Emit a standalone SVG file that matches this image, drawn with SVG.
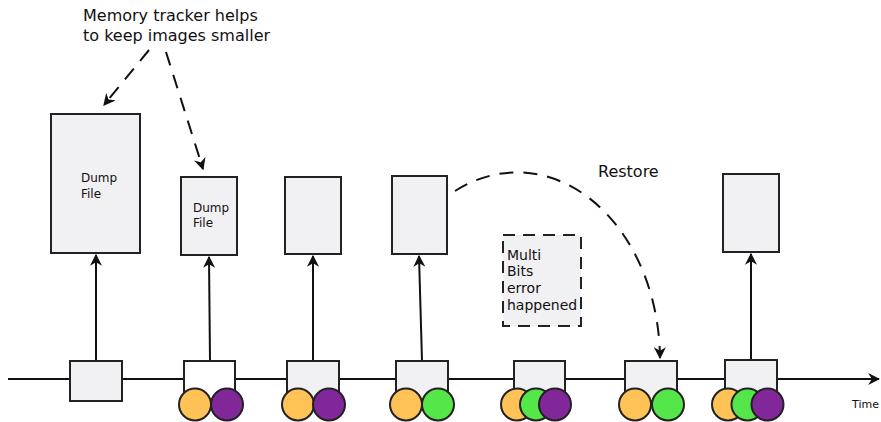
<svg xmlns="http://www.w3.org/2000/svg" width="881" height="422" viewBox="0 0 881 422">
<defs>
<style>
.box{fill:#f1f0f3;stroke:#222;stroke-width:2}
.wbox{fill:#fff;stroke:#222;stroke-width:2}
.ln{stroke:#111;stroke-width:2;fill:none}
.dash{stroke:#111;stroke-width:2;fill:none;stroke-dasharray:14 10}
.o{fill:#fec257;stroke:#222;stroke-width:2}
.g{fill:#55e64a;stroke:#222;stroke-width:2}
.p{fill:#822799;stroke:#222;stroke-width:2}
.t{font-family:"DejaVu Sans",sans-serif;fill:#111}
</style>
<marker id="ah2" viewBox="0 0 10 10" refX="9" refY="5" markerWidth="12" markerHeight="12" markerUnits="userSpaceOnUse" orient="auto"><path d="M0,0 L10,5 L0,10 L3,5 Z" fill="#111"/></marker>
</defs>
<g id="connectors">
<line class="ln" x1="8" y1="379" x2="879" y2="379" marker-end="url(#ah2)"/>
<line class="ln" x1="96" y1="361" x2="96" y2="255" marker-end="url(#ah2)"/>
<line class="ln" x1="210" y1="361" x2="209" y2="257" marker-end="url(#ah2)"/>
<line class="ln" x1="313" y1="361" x2="313" y2="256" marker-end="url(#ah2)"/>
<line class="ln" x1="422" y1="361" x2="419" y2="256" marker-end="url(#ah2)"/>
<line class="ln" x1="751" y1="360" x2="751" y2="254" marker-end="url(#ah2)"/>
<line class="dash" x1="149" y1="50" x2="104" y2="105" marker-end="url(#ah2)"/>
<line class="dash" x1="166" y1="52" x2="203" y2="169" marker-end="url(#ah2)"/>
<path class="dash" d="M455,191 A143 188 0 0 1 660,358" stroke-dasharray="18 12" marker-end="url(#ah2)"/>
</g>
<g id="note">
<text class="t" x="83" y="21" font-size="16">Memory tracker helps</text>
<text class="t" x="83" y="41" font-size="16">to keep images smaller</text>
</g>
<g id="restore-label"><text class="t" x="598" y="177" font-size="16">Restore</text></g>
<g id="dump1"><rect class="box" x="51" y="114" width="89" height="139"/>
<text class="t" x="81" y="182" font-size="12">Dump</text><text class="t" x="81" y="198" font-size="12">File</text></g>
<g id="dump2"><rect class="box" x="181" y="177" width="56" height="78"/>
<text class="t" x="193" y="212" font-size="12">Dump</text><text class="t" x="193" y="227" font-size="12">File</text></g>
<g id="dump3"><rect class="box" x="285" y="177" width="56" height="77"/></g>
<g id="dump4"><rect class="box" x="392" y="176" width="55" height="78"/></g>
<g id="dump5"><rect class="box" x="723" y="174" width="56" height="78"/></g>
<g id="error"><rect class="box" x="503" y="235" width="78" height="91" stroke-dasharray="12 8"/>
<text class="t" x="507" y="260" font-size="14">Multi</text>
<text class="t" x="507" y="276" font-size="14">Bits</text>
<text class="t" x="507" y="293" font-size="14">error</text>
<text class="t" x="507" y="310" font-size="14">happened</text></g>
<g id="s1"><rect class="box" x="70" y="361" width="52" height="40"/></g>
<g id="s2"><rect class="wbox" x="184" y="361" width="51" height="40"/>
<circle class="o" cx="195" cy="404.5" r="16"/><circle class="p" cx="227" cy="404.5" r="16"/></g>
<g id="s3"><rect class="box" x="287" y="361" width="52" height="40"/>
<circle class="o" cx="298" cy="404.5" r="16"/><circle class="p" cx="329" cy="404.5" r="16"/></g>
<g id="s4"><rect class="box" x="396" y="361" width="52" height="40"/>
<circle class="o" cx="406" cy="404.5" r="16"/><circle class="g" cx="438" cy="404.5" r="16"/></g>
<g id="s5"><rect class="box" x="514" y="361" width="51" height="40"/>
<circle class="o" cx="517" cy="404.5" r="16"/><circle class="g" cx="536" cy="404.5" r="16"/><circle class="p" cx="555" cy="404.5" r="16"/></g>
<g id="s6"><rect class="box" x="625" y="361" width="52" height="40"/>
<circle class="o" cx="635" cy="404.5" r="16"/><circle class="g" cx="668" cy="404.5" r="16"/></g>
<g id="s7"><rect class="box" x="725" y="360" width="52" height="41"/>
<circle class="o" cx="728" cy="404.5" r="16"/><circle class="g" cx="747.5" cy="404.5" r="16"/><circle class="p" cx="767.5" cy="404.5" r="16"/></g>
<g id="time-label"><text class="t" x="852" y="408" font-size="11">Time</text></g>
</svg>
